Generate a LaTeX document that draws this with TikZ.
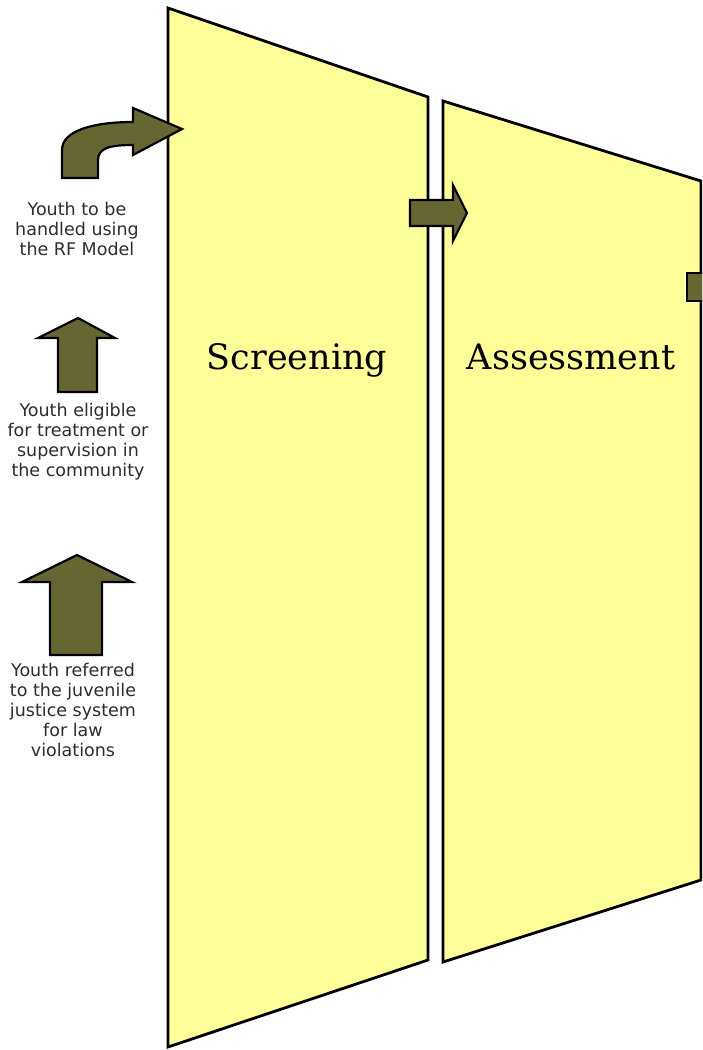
\documentclass[tikz,border=0pt]{standalone}
\usepackage{fontspec}
\setmainfont{DejaVu Serif}
\setsansfont{DejaVu Sans}
\usepackage{tikz}

\definecolor{panelyellow}{RGB}{255,255,153}
\definecolor{arrowolive}{RGB}{102,102,51}
\definecolor{captiongray}{RGB}{45,45,45}

\begin{document}
\begin{tikzpicture}[x=1pt,y=1pt,yscale=-1,
  panel/.style={fill=panelyellow,draw=black,line width=2.8,line join=miter},
  blockarrow/.style={fill=arrowolive,draw=black,line width=2.2,line join=miter},
  caption/.style={align=center,inner sep=0pt,text=captiongray,font=\sffamily\fontsize{17.5}{20}\selectfont},
  stagetitle/.style={inner sep=0pt,anchor=base,font=\fontsize{35}{40}\selectfont}]

\clip (0,0) rectangle (702,1050);

% Panels
\draw [panel] (168,8) -- (428,97) -- (428,960) -- (168,1047) -- cycle ;
\draw [panel] (443,101) -- (701,181) -- (701,880) -- (443,962) -- cycle ;

% Arrow between the panels
\draw [blockarrow] (410,200) -- (453,200) -- (453,185) -- (467,213) -- (453,241) -- (453,226) -- (410,226) -- cycle ;
% Arrow leaving the second panel
\draw [blockarrow] (687,273) -- (712,273) -- (712,301) -- (687,301) -- cycle ;

% Curved arrow
\draw [blockarrow] (62,178) -- (62,150) .. controls (62,130) and (95,122) .. (133,122) -- (133,108) -- (182,129) -- (133,155) -- (133,145) .. controls (110,145) and (98,148) .. (98,160) -- (98,178) -- cycle ;
% Up arrows
\draw [blockarrow] (58,392) -- (58,338) -- (38,338) -- (78,318) -- (115,338) -- (97,338) -- (97,392) -- cycle ;
\draw [blockarrow] (50,655) -- (50,582) -- (22,582) -- (77,555) -- (132,582) -- (102,582) -- (102,655) -- cycle ;

% Text Node
\node [caption,anchor=north] (rfmodel) at (77,202) {Youth to be\\handled using\\the RF Model};
% Text Node
\node [caption,anchor=north] (eligible) at (78,403) {Youth eligible\\for treatment or\\supervision in\\the community};
% Text Node
\node [caption,anchor=north] (referred) at (73,663) {Youth referred\\to the juvenile\\justice system\\for law\\violations};

% Text Node
\node [stagetitle] (screening) at (297,369) {Screening};
% Text Node
\node [stagetitle] (assessment) at (571,369) {Assessment};

\end{tikzpicture}
\end{document}
